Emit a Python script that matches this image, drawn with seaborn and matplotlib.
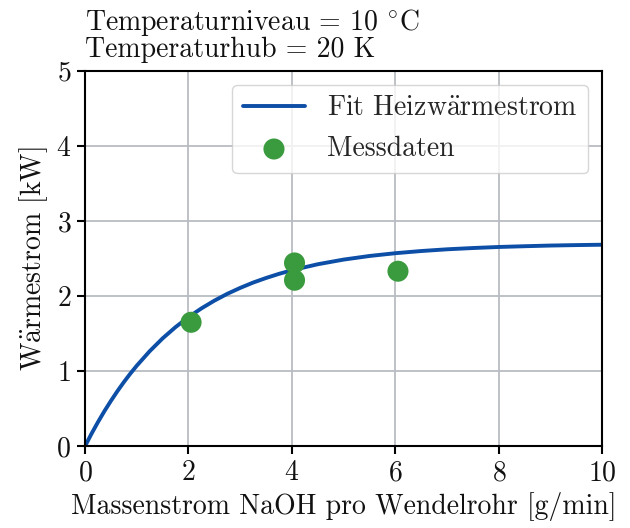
import matplotlib
matplotlib.use("Agg")
import matplotlib.pyplot as plt
import seaborn as sns

# Messdaten
mass_flow = [2.05, 4.05, 4.05, 6.05]
heat_flow = [1.65, 2.44, 2.21, 2.33]

# Fit curve, values
fit_x = [0, 0.125, 0.25, 0.375, 0.5, 0.625, 0.75, 0.875, 1, 1.25, 1.5, 1.75, 2,
         2.25, 2.5, 2.75, 3, 3.25, 3.5, 3.75, 4, 4.5, 5, 5.5, 6, 6.5, 7, 7.5, 8,
         8.5, 9, 9.5, 10]
fit_y = [0, 0.166, 0.321, 0.467, 0.603, 0.732, 0.853, 0.966, 1.072, 1.265, 1.436,
         1.586, 1.719, 1.835, 1.938, 2.029, 2.108, 2.179, 2.240, 2.295, 2.343,
         2.423, 2.485, 2.533, 2.570, 2.599, 2.622, 2.639, 2.653, 2.663, 2.672,
         2.678, 2.683]

sns.set_theme(style="whitegrid")
plt.rcParams['font.family'] = ['cmr10', 'DejaVu Serif']
plt.rcParams['mathtext.fontset'] = 'cm'
plt.rcParams['axes.formatter.use_mathtext'] = True
plt.rcParams['font.size'] = 20

fig = plt.figure(figsize=(6.3, 5.28), dpi=100)
ax = fig.add_axes([0.135, 0.155, 0.821, 0.711])

sns.lineplot(x=fit_x, y=fit_y, ax=ax, color='#0d4ea6', linewidth=2.8,
             label='Fit Heizw$\\ddot{\\mathrm{a}}$rmestrom')
sns.scatterplot(x=mass_flow, y=heat_flow, ax=ax, color='#3a9a3e', s=230,
                edgecolor='none', label='Messdaten', zorder=3)

ax.set_xlim(0, 10)
ax.set_ylim(0, 5)
ax.set_xticks([0, 2, 4, 6, 8, 10])
ax.set_yticks([0, 1, 2, 3, 4, 5])
ax.grid(True, color='#b9bcc0', linewidth=1.3)
for s in ax.spines.values():
    s.set_color('black')
    s.set_linewidth(1.5)
ax.tick_params(axis='both', which='major', labelsize=20, length=6, width=1.5,
               color='black', labelcolor='#111111', bottom=True, left=True,
               direction='out', pad=4)

ax.set_xlabel('Massenstrom NaOH pro Wendelrohr [g/min]', fontsize=20,
              color='#111111', labelpad=4)
ax.set_ylabel('W$\\ddot{\\mathrm{a}}$rmestrom [kW]', fontsize=20, color='#111111')

ax.text(0.0, 1.02, 'Temperaturniveau = 10 $^{\\circ}\\mathrm{C}$\nTemperaturhub = 20 K',
        transform=ax.transAxes, fontsize=20, va='bottom', ha='left',
        color='#111111', linespacing=0.95)

leg = ax.legend(loc='upper right', fontsize=20, frameon=True, fancybox=True,
                markerscale=1.0, handlelength=2.2, borderpad=0.4)
leg.get_frame().set_edgecolor('#cccccc')
leg.get_frame().set_alpha(0.8)

plt.savefig("out.png", dpi=100)
